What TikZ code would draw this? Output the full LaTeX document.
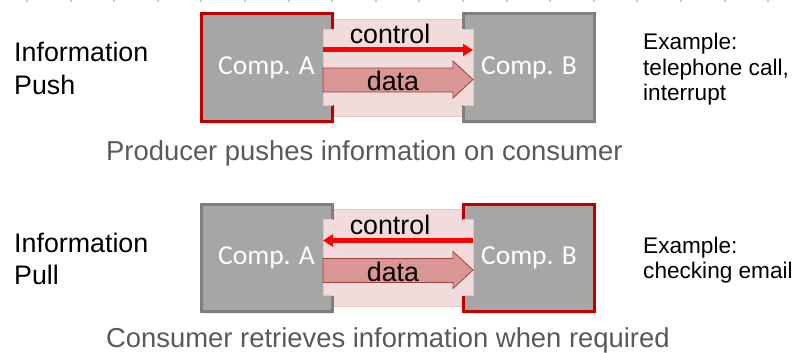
\documentclass[tikz,border=0pt]{standalone}
\usepackage{fontspec}
\setmainfont{Liberation Sans}
\newfontfamily\calibfont{Carlito}
\usetikzlibrary{arrows.meta,shadows}

\definecolor{boxgray}{HTML}{A6A6A6}
\definecolor{boxred}{HTML}{C00000}
\definecolor{boxedge}{HTML}{7F7F7F}
\definecolor{bandpink}{HTML}{F2DCDB}
\definecolor{bandedge}{HTML}{E8C4C3}
\definecolor{ctrlred}{HTML}{FF0000}
\definecolor{datafill}{HTML}{D99694}
\definecolor{dataedge}{HTML}{A0403D}
\definecolor{captiongray}{HTML}{595959}
\definecolor{tickgray}{HTML}{C8C8C8}

\begin{document}
\begin{tikzpicture}[x=1pt,y=-1pt,
  comp/.style={rectangle, fill=boxgray, line width=3pt, minimum width=131pt,
    minimum height=107pt, inner sep=0pt, text=white,
    font=\calibfont\fontsize{27.5}{30}\selectfont,
    drop shadow={opacity=0.18, shadow xshift=0.8pt, shadow yshift=-2.5pt}},
  bandfill/.style={fill=bandpink},
  bandline/.style={draw=bandedge, line width=0.7pt},
  ctrl/.style={draw=ctrlred, line width=5pt,
    -{Triangle[length=10pt,width=12pt]}},
  dataarrow/.style={fill=datafill, draw=dataedge, line width=0.8pt, line join=miter},
  lbl/.style={inner sep=0pt, font=\fontsize{26.8}{32}\selectfont},
  ex/.style={inner sep=0pt, font=\fontsize{22.6}{26}\selectfont},
  caption/.style={inner sep=0pt, text=captiongray, font=\fontsize{27.4}{32}\selectfont}]
\useasboundingbox (0,0) rectangle (805,353);

% faint tick row along the upper edge
\draw[tickgray, line width=1.6pt, dash pattern=on 2pt off 41.6pt] (26,0.8) -- (790,0.8);

% ---------------- information push ----------------
\path[bandfill, bandline] (333,19) rectangle (463,116);
\node[comp, draw=boxred]  (a1) at (266.5,67.5) {Comp. A};
\node[comp, draw=boxedge] (b1) at (529,67.5) {Comp. B};
\fill[bandfill] (323,29) rectangle (473,105);
\draw[bandline] (333,29) -- (323,29) -- (323,105) -- (333,105);
\draw[bandline] (463,29) -- (473,29) -- (473,105) -- (463,105);

\coordinate (c1s) at (323,50);
\coordinate (c1e) at (473,50);
\draw[ctrl] (c1s) -- (c1e);
\node[lbl, anchor=base] (ct1) at (390,44) {control};

\draw[dataarrow] (323,68) -- (453,68) -- (453,61) -- (473,79.5) -- (453,98)
  -- (453,92) -- (323,92) -- cycle;
\node[lbl, anchor=base] (dt1) at (393,90.5) {data};

\node[lbl, anchor=base west] (i1) at (14,62) {Information};
\node[lbl, anchor=base west] (p1) at (14,94) {Push};

\node[ex, anchor=base west] (e1) at (643,49.5) {Example:};
\node[ex, anchor=base west] (e2) at (643,75) {telephone call,};
\node[ex, anchor=base west] (e3) at (643,100.5) {interrupt};

\node[caption, anchor=base west] (cap1) at (106,160) {Producer pushes information on consumer};

% ---------------- information pull ----------------
\path[bandfill, bandline] (333,209.5) rectangle (463,306.5);
\node[comp, draw=boxedge] (a2) at (266.5,258) {Comp. A};
\node[comp, draw=boxred]  (b2) at (529,258) {Comp. B};
\fill[bandfill] (323,219.5) rectangle (473,295.5);
\draw[bandline] (333,219.5) -- (323,219.5) -- (323,295.5) -- (333,295.5);
\draw[bandline] (463,219.5) -- (473,219.5) -- (473,295.5) -- (463,295.5);

\coordinate (c2s) at (473,240.5);
\coordinate (c2e) at (323,240.5);
\draw[ctrl] (c2s) -- (c2e);
\node[lbl, anchor=base] (ct2) at (390,234.5) {control};

\draw[dataarrow] (323,258.5) -- (453,258.5) -- (453,251.5) -- (473,270) -- (453,288.5)
  -- (453,282.5) -- (323,282.5) -- cycle;
\node[lbl, anchor=base] (dt2) at (393,281) {data};

\node[lbl, anchor=base west] (i2) at (14,252.5) {Information};
\node[lbl, anchor=base west] (p2) at (14,284.5) {Pull};

\node[ex, anchor=base west] (e4) at (643,253) {Example:};
\node[ex, anchor=base west] (e5) at (643,278.5) {checking email};

\node[caption, anchor=base west] (cap2) at (106,347) {Consumer retrieves information when required};
\end{tikzpicture}
\end{document}
